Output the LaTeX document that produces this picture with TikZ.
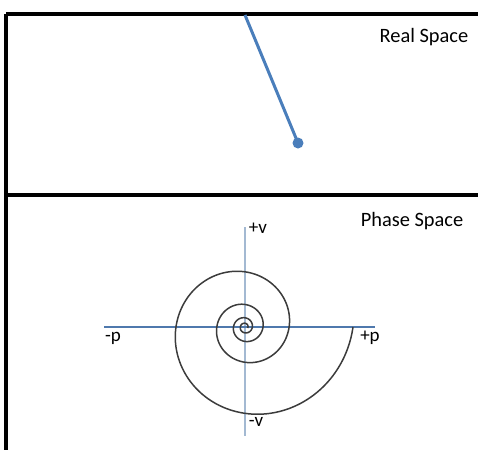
\documentclass[tikz,border=0pt]{standalone}
\usepackage{fontspec}
\setmainfont{Carlito}
\usepackage{xcolor}
\usepackage{tikz}
\usetikzlibrary{positioning, calc}
\definecolor{pendblue}{HTML}{4A7EBB}
\definecolor{axisblue}{HTML}{4F79AD}
\definecolor{axislight}{HTML}{A3B9D2}
\definecolor{spiralgray}{HTML}{3C3C3C}
\tikzstyle{frame} = [line width=2pt, black]
\tikzstyle{title} = [font=\fontsize{10.2}{12}\selectfont, inner sep=0pt]
\tikzstyle{axislabel} = [font=\fontsize{9.5}{11}\selectfont, inner sep=0pt]

\begin{document}
\begin{tikzpicture}[x=0.5pt, y=-0.5pt]
\useasboundingbox (0,0) rectangle (478,450);

% Frame
\coordinate (topleft) at (6,14);
\coordinate (topright) at (478,14);
\coordinate (botleft) at (6,450);
\coordinate (midleft) at (6,195);
\coordinate (midright) at (478,195);
\draw [frame] (topleft) -- (topright);
\draw [frame] (topleft) -- (botleft);
\draw [line width=1.6pt] (midleft) -- (midright);

% Real space: pendulum
\node (realtitle) at (424,37) [title] {Real Space};
\coordinate (pivot) at (245,15);
\node (bob) at (298,143) [circle, fill=pendblue, inner sep=0pt, minimum size=5.5pt] {};
\draw [pendblue, line width=1.5pt] (pivot) -- (bob.center);

% Phase space: axes
\node (phasetitle) at (412,221) [title] {Phase Space};
\coordinate (origin) at (245,327);
\coordinate (pleft) at (104,327);
\coordinate (pright) at (375,327);
\coordinate (vtop) at (245,227);
\coordinate (vbot) at (245,436);
\draw [axislight, line width=0.6pt] (vtop) -- (vbot);
\draw [axisblue, line width=0.7pt] (pleft) -- (pright);
\node (plusv) at (258,228) [axislabel] {+v};
\node (minusv) at (256,422) [axislabel] {-v};
\node (minusp) at (113,338) [axislabel] {-p};
\node (plusp) at (370,338) [axislabel] {+p};

% Spiral (decaying oscillation)
\draw [spiralgray, line width=0.75pt, smooth, samples=500, domain=0:1460]
  plot ({245 + 108*exp(-0.00248*\x)*cos(\x)}, {327 + 108*exp(-0.00248*\x)*sin(\x)});

\end{tikzpicture}
\end{document}
